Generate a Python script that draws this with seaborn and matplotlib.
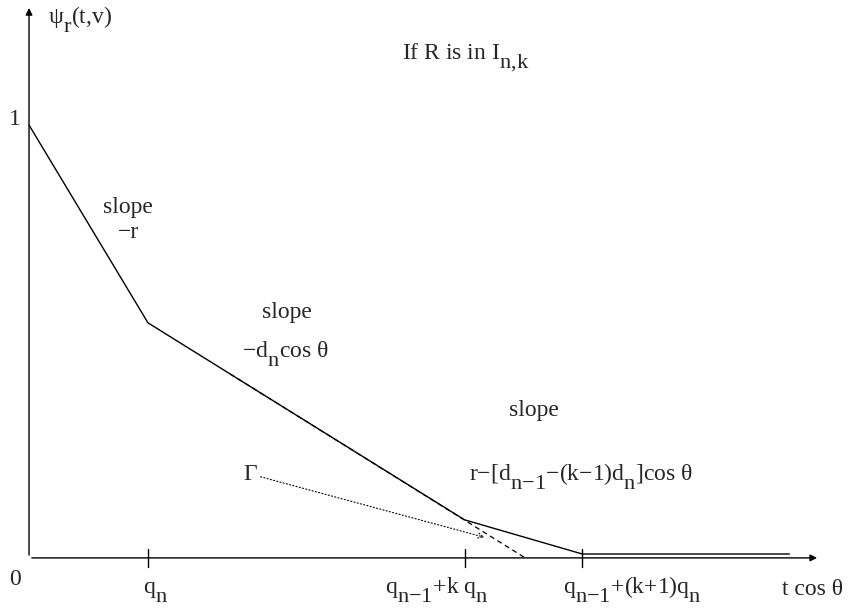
import numpy as np
import pandas as pd
import matplotlib
matplotlib.use("Agg")
import matplotlib.pyplot as plt
import matplotlib._mathtext as mtext
import seaborn as sns

# -----------------------------------
# DATA (break points of the piecewise linear psi_r)
# -----------------------------------

x_break = [0.0, 1.0, 3.66, 4.65, 6.39]
y_break = [1.0, 0.543, 0.088, 0.009, 0.009]

# dashed continuation of the middle slope
x_dash = [1.69, 4.17]
y_dash = [0.425, 0.0]

# dotted pointer from Gamma
x_gamma = [1.924, 3.849]
y_gamma = [0.189, 0.046]

tick_pos = [1.0, 3.66, 4.65]
tick_labels = [r"q$_{\rm n}$", r"q$_{\rm n{-}1}$+k q$_{\rm n}$", r"q$_{\rm n{-}1}$+(k+1)q$_{\rm n}$"]
tick_label_left = [0.958, 2.992, 4.487]

# -----------------------------------
# STYLE
# -----------------------------------

sns.set_theme(style="white")
plt.rcParams['font.family'] = ['Liberation Serif', 'DejaVu Serif']
plt.rcParams['mathtext.fontset'] = 'custom'
plt.rcParams['mathtext.rm'] = 'Liberation Serif'
plt.rcParams['mathtext.it'] = 'Liberation Serif'
# subscripts in the original are nearly full size and sit low
mtext.SHRINK_FACTOR = 0.95
mtext.FontConstantsBase.sub1 = 0.9

fig = plt.figure(figsize=(8.5, 6.12), dpi=100)
ax = fig.add_axes([0, 0, 1, 1])
ax.set_xlim(-0.244, 6.9)
ax.set_ylim(-0.125, 1.289)
ax.axis("off")

df = pd.DataFrame({"x": x_break, "y": y_break})
sns.lineplot(data=df, x="x", y="y", color="black", lw=1.0, ax=ax)
ax.plot(x_dash, y_dash, color="black", lw=0.9, ls=(0, (4, 3)))

# axes with arrows
ax.annotate("", xy=(6.647, 0), xytext=(0, 0),
            arrowprops=dict(arrowstyle="-|>", color="black", lw=1.0, mutation_scale=10))
ax.annotate("", xy=(0, 1.277), xytext=(0, 0),
            arrowprops=dict(arrowstyle="-|>", color="black", lw=1.0, mutation_scale=10))

# Gamma pointer
ax.annotate("", xy=(x_gamma[1], y_gamma[1]), xytext=(x_gamma[0], y_gamma[0]),
            arrowprops=dict(arrowstyle="->", color="black", lw=0.8, ls=(0, (1, 2)),
                            mutation_scale=9))

for xp in tick_pos:
    ax.plot([xp, xp], [-0.021, 0.021], color="black", lw=1.0)

fs = 17
kw = dict(ha="left", va="baseline", fontsize=fs)
for xl, lab in zip(tick_label_left, tick_labels):
    ax.text(xl, -0.081, lab, **kw)
ax.text(-0.118, -0.062, "0", ha="center", va="baseline", fontsize=fs)
ax.text(-0.118, 1.0, "1", ha="center", va="baseline", fontsize=fs)
ax.text(6.328, -0.085, "t cos θ", **kw)
ax.text(0.16, 1.236, r"ψ$_{\rm r}$(t,v)", **kw)

ax.text(3.134, 1.152, r"If R is in I$_{\rm n{,}k}$", **kw)
ax.text(0.622, 0.797, "slope", **kw)
ax.text(0.748, 0.739, "−r", **kw)
ax.text(1.958, 0.554, "slope", **kw)
ax.text(1.790, 0.464, r"−d$_{\rm n}$cos θ", **kw)
ax.text(4.034, 0.328, "slope", **kw)
ax.text(3.697, 0.180, r"r−[d$_{\rm n{-}1}$−(k−1)d$_{\rm n}$]cos θ", **kw)
ax.text(1.798, 0.180, "Γ", **kw)

plt.savefig("out.png", dpi=100)
